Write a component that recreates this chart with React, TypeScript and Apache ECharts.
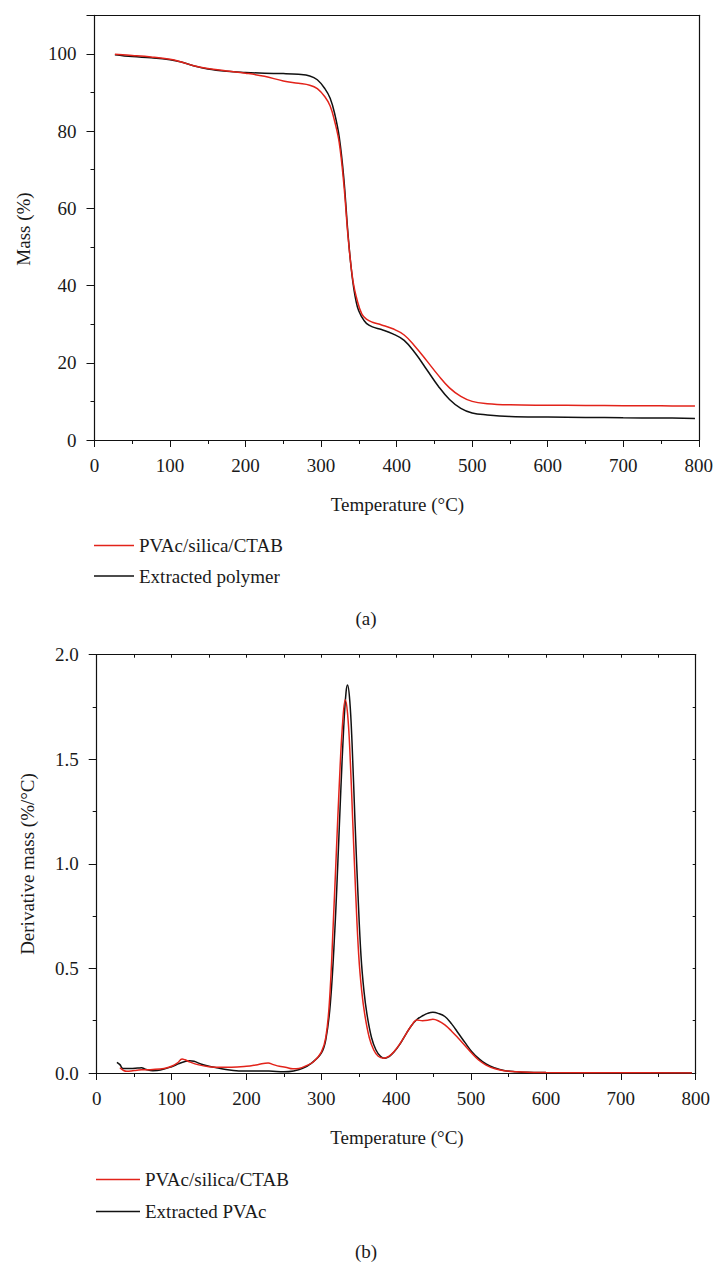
import React, { useEffect, useRef } from "react";
import * as echarts from "echarts";

// ---------- Data: (a) TGA mass curves ----------
const tgaTemps = [27, 50, 75, 100, 115, 130, 150, 175, 200, 225, 250, 270, 285, 295, 305, 312, 318, 324, 330, 336, 342, 348, 354, 360, 368, 380, 395, 410, 425, 440, 455, 470, 485, 500, 520, 550, 600, 650, 700, 750, 795];
const tgaComposite = [99.9, 99.6, 99.2, 98.6, 97.9, 97.0, 96.2, 95.6, 95.0, 94.2, 93.0, 92.4, 91.9, 91.0, 88.9, 86.5, 82.5, 77.0, 66.5, 52.0, 41.5, 36.0, 32.6, 31.3, 30.5, 29.8, 28.8, 27.2, 24.1, 20.5, 16.8, 13.5, 11.3, 10.0, 9.4, 9.1, 9.0, 8.95, 8.9, 8.85, 8.8];
const tgaExtracted = [99.8, 99.3, 99.0, 98.5, 97.9, 97.0, 96.1, 95.5, 95.2, 95.0, 94.9, 94.7, 94.3, 93.3, 91.0, 88.5, 84.5, 78.5, 68.0, 52.5, 41.0, 34.5, 31.8, 30.2, 29.3, 28.6, 27.5, 25.8, 22.4, 18.2, 14.0, 10.5, 8.2, 7.0, 6.5, 6.1, 5.95, 5.85, 5.75, 5.7, 5.6];

// ---------- Data: (b) DTG curves ----------
const dtgCompositeT = [31, 36, 40, 50, 60, 75, 90, 100, 108, 114, 118, 125, 135, 150, 165, 180, 200, 215, 229, 236, 244, 252, 262, 270, 280, 290, 300, 306, 311, 316, 320, 324, 328, 332, 335, 338, 342, 346, 350, 354, 358, 364, 370, 376, 383, 390, 397, 405, 412, 420, 428, 435, 442, 449, 456, 465, 474, 483, 492, 501, 510, 520, 532, 544, 560, 575, 600, 700, 795];
const dtgCompositeV = [0.025, 0.012, 0.008, 0.012, 0.015, 0.017, 0.022, 0.032, 0.048, 0.067, 0.063, 0.052, 0.040, 0.030, 0.027, 0.027, 0.032, 0.040, 0.048, 0.040, 0.032, 0.028, 0.020, 0.022, 0.035, 0.055, 0.10, 0.17, 0.35, 0.72, 1.05, 1.38, 1.65, 1.785, 1.72, 1.55, 1.20, 0.85, 0.56, 0.39, 0.28, 0.17, 0.11, 0.08, 0.071, 0.08, 0.102, 0.14, 0.18, 0.225, 0.253, 0.25, 0.252, 0.257, 0.25, 0.23, 0.20, 0.166, 0.13, 0.094, 0.062, 0.038, 0.02, 0.011, 0.006, 0.003, 0.002, 0.001, 0.0];
const dtgExtractedT = [27, 31, 35, 45, 55, 60, 65, 75, 85, 100, 110, 118, 124, 130, 140, 150, 160, 175, 190, 205, 230, 250, 263, 275, 287, 300, 306, 312, 318, 322, 326, 330, 333, 335, 338, 341, 345, 349, 353, 357, 361, 367, 373, 379, 385, 391, 397, 405, 412, 420, 428, 436, 442, 449, 456, 465, 474, 483, 492, 501, 510, 520, 532, 544, 560, 575, 600, 700, 795];
const dtgExtractedV = [0.051, 0.04, 0.022, 0.022, 0.024, 0.025, 0.018, 0.011, 0.014, 0.030, 0.045, 0.055, 0.059, 0.056, 0.042, 0.032, 0.025, 0.015, 0.010, 0.009, 0.009, 0.006, 0.010, 0.022, 0.047, 0.095, 0.16, 0.33, 0.68, 1.0, 1.35, 1.66, 1.82, 1.855, 1.78, 1.58, 1.20, 0.85, 0.56, 0.39, 0.28, 0.17, 0.11, 0.08, 0.07, 0.08, 0.10, 0.138, 0.18, 0.225, 0.257, 0.275, 0.285, 0.290, 0.285, 0.27, 0.235, 0.19, 0.145, 0.102, 0.07, 0.043, 0.024, 0.012, 0.006, 0.003, 0.002, 0.001, 0.0];

const nameComposite = "PVAc/silica/CTAB";
const nameExtractedA = "Extracted polymer";
const nameExtractedB = "Extracted PVAc";

const RED = "#e2231a";
const BLACK = "#111111";
const TEXT = "#1a1a1a";
const FONT = "'Liberation Serif', 'DejaVu Serif', serif";
const FS = 19;

const zip = (xs: number[], ys: number[]) => xs.map((x, i) => [x, ys[i]]);

export default function App() {
  const ref = useRef<HTMLDivElement>(null);
  useEffect(() => {
    document.body.style.margin = "0";
    const chart = echarts.init(ref.current!, null, { renderer: "svg" });
    const axisLine = { show: true, onZero: false, lineStyle: { color: BLACK, width: 1.2 } };
    const label = { color: TEXT, fontFamily: FONT, fontSize: FS };
    const boxX = (gridIndex: number, ticks: boolean) => ({
      type: "value", gridIndex, position: "top", min: 0, max: 800, interval: 50,
      axisLine, axisLabel: { show: false }, splitLine: { show: false },
      axisTick: { show: ticks, inside: true, length: 3, lineStyle: { color: BLACK } },
    });
    chart.setOption({
      animation: false,
      grid: [
        { left: 94.5, top: 15.3, width: 606.5, height: 424.7 },
        { left: 96.7, top: 654.7, width: 599, height: 418.3 },
      ],
      xAxis: [
        {
          type: "value", gridIndex: 0, position: "bottom", min: 0, max: 800, interval: 100,
          axisLine, splitLine: { show: false },
          axisTick: { show: true, length: 7, lineStyle: { color: BLACK } },
          minorTick: { show: true, splitNumber: 2, length: 4, lineStyle: { color: BLACK } },
          axisLabel: { ...label, margin: 16 },
        },
        boxX(0, false),
        {
          type: "value", gridIndex: 1, position: "bottom", min: 0, max: 800, interval: 100,
          axisLine, splitLine: { show: false },
          axisTick: { show: true, length: 7, lineStyle: { color: BLACK } },
          minorTick: { show: true, splitNumber: 2, length: 4, lineStyle: { color: BLACK } },
          axisLabel: { ...label, margin: 16 },
        },
        boxX(1, true),
      ],
      yAxis: [
        {
          type: "value", gridIndex: 0, position: "left", min: 0, max: 110, interval: 20,
          axisLine, splitLine: { show: false },
          axisTick: { show: true, length: 8, lineStyle: { color: BLACK } },
          minorTick: { show: true, splitNumber: 2, length: 4, lineStyle: { color: BLACK } },
          axisLabel: { ...label, margin: 18, showMaxLabel: false },
        },
        {
          type: "value", gridIndex: 0, position: "right", min: 0, max: 110, interval: 20,
          axisLine, splitLine: { show: false }, axisTick: { show: false }, axisLabel: { show: false },
        },
        {
          type: "value", gridIndex: 1, position: "left", min: 0, max: 2, interval: 0.5,
          axisLine, splitLine: { show: false },
          axisTick: { show: true, length: 8, lineStyle: { color: BLACK } },
          minorTick: { show: true, splitNumber: 2, length: 4, lineStyle: { color: BLACK } },
          axisLabel: { ...label, margin: 18, formatter: (v: number) => v.toFixed(1) },
        },
        {
          type: "value", gridIndex: 1, position: "right", min: 0, max: 2, interval: 0.25,
          axisLine, splitLine: { show: false },
          axisTick: { show: true, inside: true, length: 3, lineStyle: { color: BLACK } },
          axisLabel: { show: false },
        },
      ],
      legend: [
        {
          data: [nameComposite, nameExtractedA], orient: "vertical", left: 94, top: 536,
          icon: "rect", itemWidth: 40, itemHeight: 1.6, itemGap: 11.5, padding: 0,
          textStyle: { ...label }, selectedMode: false,
        },
        {
          data: [nameComposite, nameExtractedB], orient: "vertical", left: 96, top: 1170,
          icon: "rect", itemWidth: 44, itemHeight: 1.6, itemGap: 13, padding: 0,
          textStyle: { ...label }, selectedMode: false,
        },
      ],
      series: [
        {
          name: nameComposite, type: "line", xAxisIndex: 0, yAxisIndex: 0, data: zip(tgaTemps, tgaComposite),
          showSymbol: false, smooth: 0.4, lineStyle: { color: RED, width: 1.5 }, itemStyle: { color: RED }, z: 3,
        },
        {
          name: nameExtractedA, type: "line", xAxisIndex: 0, yAxisIndex: 0, data: zip(tgaTemps, tgaExtracted),
          showSymbol: false, smooth: 0.4, lineStyle: { color: BLACK, width: 1.5 }, itemStyle: { color: BLACK }, z: 2,
        },
        {
          name: nameExtractedB, type: "line", xAxisIndex: 2, yAxisIndex: 2, data: zip(dtgExtractedT, dtgExtractedV),
          showSymbol: false, smooth: 0.4, lineStyle: { color: BLACK, width: 1.5 }, itemStyle: { color: BLACK }, z: 2,
        },
        {
          name: nameComposite, type: "line", xAxisIndex: 2, yAxisIndex: 2, data: zip(dtgCompositeT, dtgCompositeV),
          showSymbol: false, smooth: 0.4, lineStyle: { color: RED, width: 1.5 }, itemStyle: { color: RED }, z: 3,
        },
      ],
      graphic: [
        { type: "text", x: 23, y: 229, rotation: Math.PI / 2, style: { text: "Mass (%)", fill: TEXT, font: `${FS}px ${FONT}`, textAlign: "center", textVerticalAlign: "middle" } },
        { type: "text", x: 397.5, y: 504, style: { text: "Temperature (°C)", fill: TEXT, font: `${FS}px ${FONT}`, textAlign: "center", textVerticalAlign: "middle" } },
        { type: "text", x: 366, y: 618, style: { text: "(a)", fill: TEXT, font: `${FS}px ${FONT}`, textAlign: "center", textVerticalAlign: "middle" } },
        { type: "text", x: 27.5, y: 864, rotation: Math.PI / 2, style: { text: "Derivative mass (%/°C)", fill: TEXT, font: `${FS}px ${FONT}`, textAlign: "center", textVerticalAlign: "middle" } },
        { type: "text", x: 397, y: 1137, style: { text: "Temperature (°C)", fill: TEXT, font: `${FS}px ${FONT}`, textAlign: "center", textVerticalAlign: "middle" } },
        { type: "text", x: 366, y: 1251, style: { text: "(b)", fill: TEXT, font: `${FS}px ${FONT}`, textAlign: "center", textVerticalAlign: "middle" } },
      ],
    });
    return () => chart.dispose();
  }, []);
  return <div ref={ref} style={{ width: 716, height: 1262 }} />;
}
